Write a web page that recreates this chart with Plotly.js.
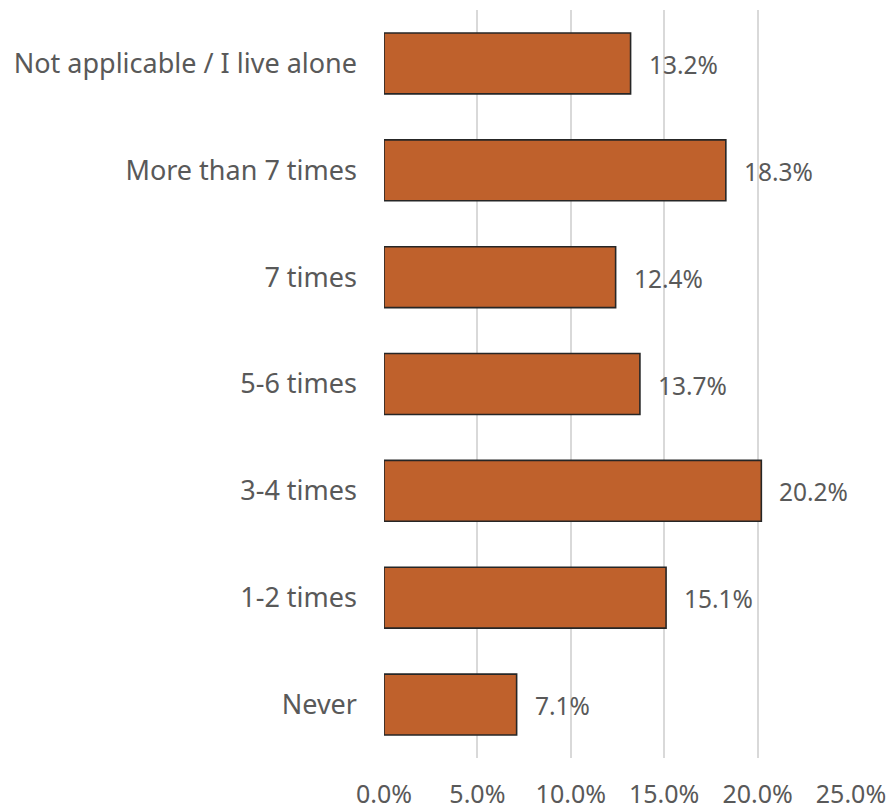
<!DOCTYPE html>
<html>
<head>
<meta charset="utf-8">
<script src="https://cdn.plot.ly/plotly-3.0.1.min.js"></script>
<style>html,body{margin:0;padding:0;background:#fff;}#chart{width:891px;height:810px;}</style>
</head>
<body>
<div id="chart"></div>
<script>
const categories = ["Never", "1-2 times", "3-4 times", "5-6 times", "7 times", "More than 7 times", "Not applicable / I live alone"];
const values = [7.1, 15.1, 20.2, 13.7, 12.4, 18.3, 13.2];
const xTicks = [0, 5, 10, 15, 20, 25];
const xTickLabels = ["0.0%", "5.0%", "10.0%", "15.0%", "20.0%", "25.0%"];

const fontFam = "Noto Sans, Open Sans, sans-serif";
const grey = "#595959";

const trace = {
  type: "bar",
  orientation: "h",
  y: categories,
  x: values,
  width: 0.57,
  marker: {color: "#BF612C", line: {color: "#262626", width: 1.6}},
  hoverinfo: "none"
};

const annotations = values.map((v, i) => ({
  x: v, y: categories[i], xref: "x", yref: "y",
  text: v.toFixed(1) + "%", showarrow: false,
  xanchor: "left", yanchor: "middle", xshift: 16, yshift: -1,
  font: {family: fontFam, size: 24.5, color: grey}
}));

const layout = {
  width: 891, height: 810,
  margin: {l: 384, r: 40, t: 10, b: 52},
  paper_bgcolor: "#fff", plot_bgcolor: "#fff",
  showlegend: false,
  bargap: 0.43,
  xaxis: {
    range: [0, 25], tickvals: xTicks, ticktext: xTickLabels,
    showgrid: true, gridcolor: "#d9d9d9", gridwidth: 2,
    zeroline: false, showline: false, ticks: "",
    ticklabelstandoff: 19,
    tickfont: {family: fontFam, size: 25, color: grey},
    fixedrange: true
  },
  yaxis: {
    type: "category", categoryorder: "array", categoryarray: categories,
    showgrid: false, zeroline: false, showline: false, ticks: "",
    ticklabelstandoff: 26,
    tickfont: {family: fontFam, size: 27, color: grey},
    fixedrange: true
  },
  annotations: annotations
};

Plotly.newPlot("chart", [trace], layout, {displayModeBar: false, staticPlot: true});
</script>
</body>
</html>
